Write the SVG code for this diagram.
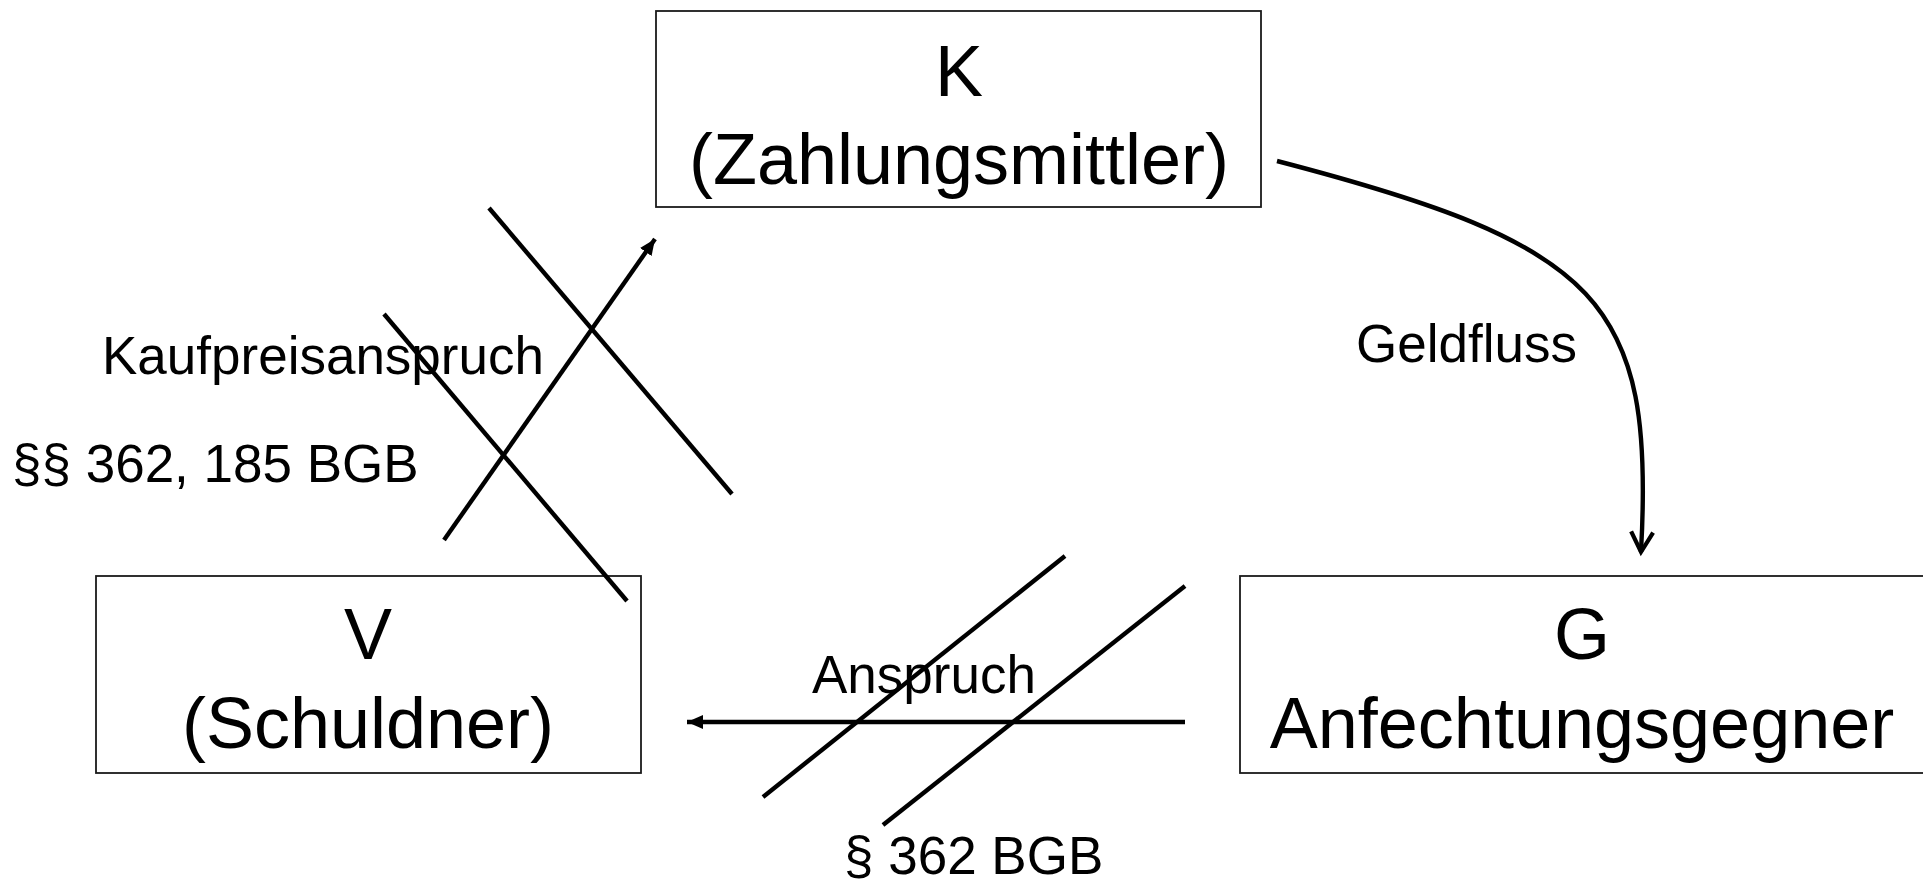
<svg xmlns="http://www.w3.org/2000/svg" width="1923" height="884" viewBox="0 0 1923 884">
  <style>
    .box { fill: #ffffff; stroke: #1a1a1a; stroke-width: 1.8; }
    .node-text { font-family: "Liberation Sans", Arial, sans-serif; font-size: 72px; fill: #000; text-anchor: middle; }
    .label { font-family: "Liberation Sans", Arial, sans-serif; font-size: 53px; fill: #000; }
    .line { fill: none; stroke: #000; stroke-width: 4.4; stroke-linecap: butt; }
  </style>
  <defs>
    <marker id="arrowFilled" markerUnits="userSpaceOnUse" markerWidth="18" markerHeight="14" refX="16" refY="7" orient="auto">
      <path d="M0,0 L16,7 L0,14 Z" fill="#000"/>
    </marker>
    <marker id="arrowOpen" markerUnits="userSpaceOnUse" markerWidth="26" markerHeight="28" refX="22" refY="12" orient="auto" overflow="visible">
      <path d="M2,1 L22,12 L2,23" fill="none" stroke="#000" stroke-width="4.2"/>
    </marker>
  </defs>

  <rect width="1923" height="884" fill="#ffffff"/>

  <!-- parties -->
  <g id="node-k">
    <rect class="box" x="656" y="11" width="605" height="196"/>
    <text class="node-text" x="959" y="96">K</text>
    <text class="node-text" x="959" y="184">(Zahlungsmittler)</text>
  </g>
  <g id="node-v">
    <rect class="box" x="96" y="576" width="545" height="197"/>
    <text class="node-text" x="368" y="659">V</text>
    <text class="node-text" x="368" y="748">(Schuldner)</text>
  </g>
  <g id="node-g">
    <rect class="box" x="1240" y="576" width="700" height="197"/>
    <text class="node-text" x="1582" y="659">G</text>
    <text class="node-text" x="1582" y="748">Anfechtungsgegner</text>
  </g>

  <!-- relations between the parties -->
  <g id="connectors">
    <!-- money flow K -> G -->
    <path class="line" d="M1277,161 C1600,245 1655,300 1641,552" marker-end="url(#arrowOpen)"/>
    <!-- purchase price claim V -> K, struck out -->
    <line class="line" x1="444" y1="540" x2="655" y2="239" marker-end="url(#arrowFilled)"/>
    <line class="line" x1="489" y1="208" x2="732" y2="494"/>
    <line class="line" x1="384" y1="314" x2="627" y2="601"/>
    <!-- claim G -> V, struck out -->
    <line class="line" x1="1185" y1="722" x2="687" y2="722" marker-end="url(#arrowFilled)"/>
    <line class="line" x1="763" y1="797" x2="1065" y2="556"/>
    <line class="line" x1="883" y1="825" x2="1185" y2="586"/>
  </g>

  <g id="labels">
    <text class="label" x="1356" y="362">Geldfluss</text>
    <text class="label" x="102" y="374">Kaufpreisanspruch</text>
    <text class="label" x="12" y="482">§§ 362, 185 BGB</text>
    <text class="label" x="812" y="693">Anspruch</text>
    <text class="label" x="844" y="874">§ 362 BGB</text>
  </g>
</svg>
